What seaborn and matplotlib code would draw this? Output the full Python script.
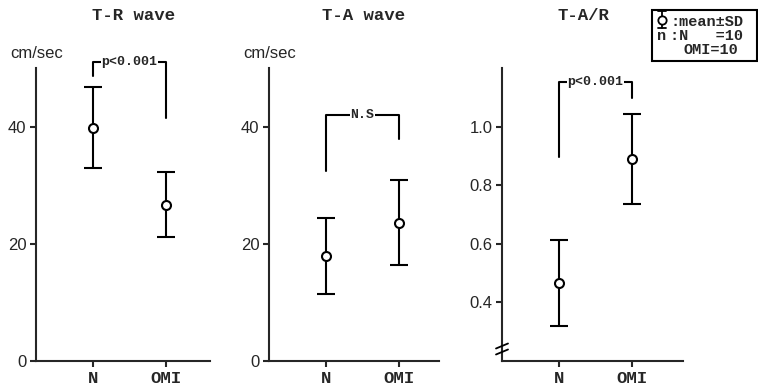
import numpy as np
import pandas as pd
import matplotlib
matplotlib.use("Agg")
import matplotlib.pyplot as plt
from matplotlib.lines import Line2D
from matplotlib.patches import Rectangle
import seaborn as sns

# values (mean and SD per group)
groups = ["N", "OMI"]
tr_mean = [39.8, 26.7]
tr_sd = [6.9, 5.5]
ta_mean = [17.9, 23.6]
ta_sd = [6.45, 7.25]
tar_mean = [0.465, 0.89]
tar_sd = [0.147, 0.153]

titles = ["T-R wave", "T-A wave", "T-A/R"]
ylims = [(0, 50), (0, 50), (0.2, 1.2)]
yticks = [[0, 20, 40], [0, 20, 40], [0.4, 0.6, 0.8, 1.0]]
yticklabels = [["0", "20", "40"], ["0", "20", "40"], ["0.4", "0.6", "0.8", "1.0"]]
# significance brackets: left foot, top, right foot, label
brackets = [(48.7, 51.0, 41.5, "p<0.001"),
            (32.5, 41.9, 37.9, "N.S"),
            (0.895, 1.151, 1.096, "p<0.001")]

sns.set_style("ticks")
plt.rcParams["font.family"] = ["Liberation Sans", "DejaVu Sans"]
MONO = "Liberation Mono"

fig = plt.figure(figsize=(7.58, 3.88), dpi=100)
W, H = 758, 388
# axes boxes in pixels: left, right
boxes = [(36, 210), (269, 439), (502, 683)]
top_px, bot_px = 68, 361

series = [(tr_mean, tr_sd), (ta_mean, ta_sd), (tar_mean, tar_sd)]
for i, ((m, s), (l, r)) in enumerate(zip(series, boxes)):
    ax = fig.add_axes([l / W, (H - bot_px) / H, (r - l) / W, (bot_px - top_px) / H])
    df = pd.DataFrame({"group": groups, "mean": m, "sd": s})
    ax.errorbar(np.arange(len(groups)), df["mean"], yerr=df["sd"], fmt="none",
                ecolor="black", elinewidth=1.5, capsize=6.5, capthick=1.5, zorder=2)
    sns.scatterplot(data=df, x="group", y="mean", ax=ax, s=42, marker="o",
                    facecolor="white", edgecolor="black", linewidth=1.5, zorder=3)
    ax.set_xlim(-0.78, (r - l) / 73 - 0.78)
    ax.set_ylim(*ylims[i])
    ax.set_yticks(yticks[i])
    ax.set_yticklabels(yticklabels[i], fontsize=12)
    ax.set_xticks([0, 1])
    ax.set_xticklabels(groups, fontsize=12.5, family=MONO, fontweight="bold")
    ax.set_xlabel("")
    ax.set_ylabel("")
    sns.despine(ax=ax)
    for sp in ["left", "bottom"]:
        ax.spines[sp].set_linewidth(1.5)
    ax.tick_params(width=1.5, length=4, pad=3)
    # bracket
    lb, tp, rb, lab = brackets[i]
    ax.plot([0, 0, 1, 1], [lb, tp, tp, rb], color="black", lw=1.5,
            clip_on=False, zorder=1)
    ax.text(0.5, tp, lab, ha="center", va="center", family=MONO,
            fontweight="bold", fontsize=9.5, zorder=2,
            bbox=dict(facecolor="white", edgecolor="none", pad=0.5))
    if i < 2:
        fig.text(l / W - 0.034, (H - 53) / H, "cm/sec", fontsize=12, va="center")
    else:
        # axis break mark
        for dy in (-4, 2):
            y0 = (H - 348 + dy) / H
            fig.add_artist(Line2D([(l - 6) / W, (l + 6) / W], [y0 - 2.5 / H, y0 + 2.5 / H],
                                  color="black", lw=1.3))

# panel titles at fixed height
fig_title_x = [133, 363, 583]
for t, x in zip(titles, fig_title_x):
    fig.text(x / W, (H - 15) / H, t, ha="center", va="center", family=MONO,
             fontweight="bold", fontsize=12.5)

# legend box
fig.add_artist(Rectangle((652 / W, (H - 61) / H), 105 / W, 51 / H, fill=False,
                         edgecolor="black", lw=1.5, transform=fig.transFigure))
ix = 662 / W
fig.add_artist(Line2D([ix, ix], [(H - 11) / H, (H - 28) / H], color="black", lw=1.3))
for yy in (11, 28):
    fig.add_artist(Line2D([ix - 4 / W, ix + 4 / W], [(H - yy) / H] * 2, color="black", lw=1.3))
fig.add_artist(Line2D([ix], [(H - 20) / H], marker="o", markersize=6,
                      markerfacecolor="white", markeredgecolor="black", markeredgewidth=1.3))
fig.text(670 / W, (H - 22) / H, ":mean\u00b1SD", family=MONO, fontweight="bold",
         fontsize=11, va="center")
fig.text(662 / W, (H - 36) / H, "n", family=MONO, fontweight="bold",
         fontsize=11, va="center", ha="center")
fig.text(670 / W, (H - 36) / H, ":N   =10", family=MONO, fontweight="bold",
         fontsize=11, va="center")
fig.text(683 / W, (H - 50) / H, "OMI=10", family=MONO, fontweight="bold",
         fontsize=11, va="center")

fig.savefig("out.png", dpi=100)
